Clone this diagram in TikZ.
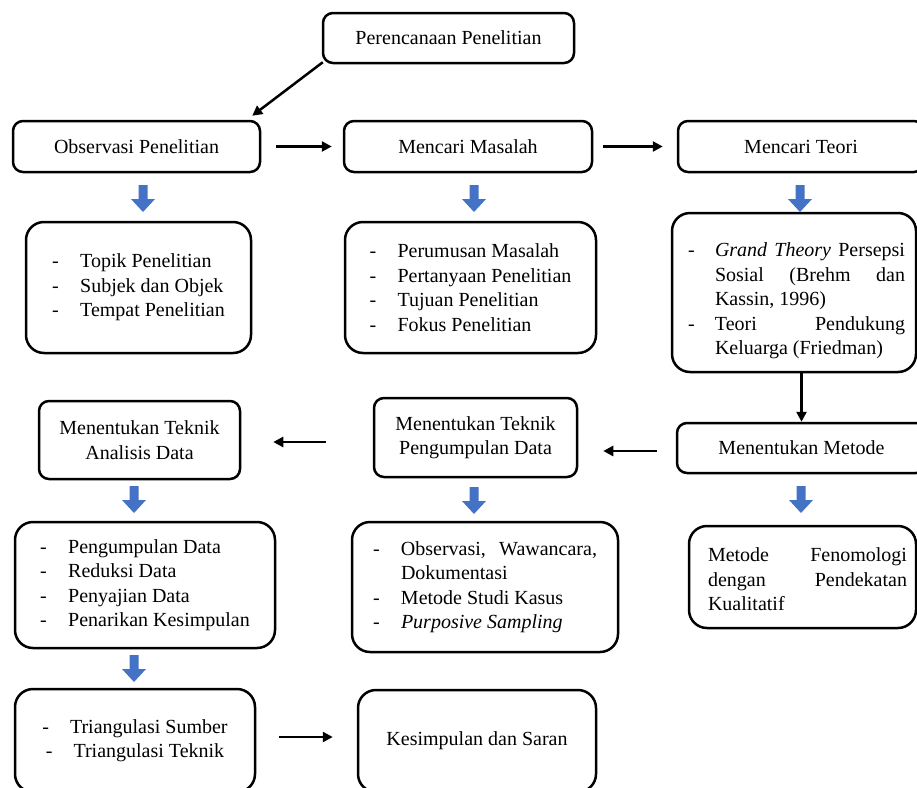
\documentclass[tikz,border=0pt]{standalone}
\usepackage{fontspec}
\setmainfont{Liberation Serif}
\usetikzlibrary{arrows.meta,calc}
\definecolor{arrowblue}{HTML}{4472C4}
\newcommand{\itm}[1]{\makebox[28pt][l]{-}#1}
\newcommand{\ind}{\hspace*{28pt}}
\begin{document}
\begin{tikzpicture}[x=1pt,y=-1pt,
  txt/.style={font=\fontsize{20}{24.5}\selectfont},
  box/.style={txt, draw, line width=2.5pt, rounded corners=10pt, inner sep=0pt, align=center},
  bigbox/.style={box, rounded corners=18pt},
  listbox/.style={bigbox, align=left},
  arr/.style={line width=2.5pt, -{Triangle[length=10pt,width=10pt]}},
  bluearrow/.pic={\fill[arrowblue] (-4.5,0) -- (4.5,0) -- (4.5,14) -- (12,14) -- (0,27) -- (-12,14) -- (-4.5,14) -- cycle;}
]
\useasboundingbox (0,0) rectangle (917,787);
\clip (0,0) rectangle (917,787);

% row 1
\node[box, minimum width=251pt, minimum height=50pt] (plan) at (448.5,38) {Perencanaan Penelitian};
\node[box, minimum width=247pt, minimum height=51pt] (obs) at (136.5,146.5) {Observasi Penelitian};
\node[box, minimum width=248pt, minimum height=51pt] (mas) at (468,146.5) {Mencari Masalah};
\node[box, minimum width=246pt, minimum height=51pt] (teori) at (801,146.5) {Mencari Teori};

\draw[arr] ([xshift=1pt,yshift=2pt]plan.south west) -- ([xshift=-9pt,yshift=4pt]obs.north east);
\draw[arr, shorten <=15pt, shorten >=11pt] (obs.east) -- (mas.west);
\draw[arr, shorten <=10pt, shorten >=14pt] (mas.east) -- (teori.west);

\pic at (143,185) {bluearrow};
\pic at (474,185) {bluearrow};
\pic at (800,185) {bluearrow};

% row 2
\node[listbox, minimum width=225pt, minimum height=131pt] (topik) at (138.5,287.5)
  {\itm{Topik Penelitian}\\ \itm{Subjek dan Objek}\\ \itm{Tempat Penelitian}};
\node[listbox, minimum width=251pt, minimum height=131pt] (rumus) at (470.5,287.5)
  {\itm{Perumusan Masalah}\\ \itm{Pertanyaan Penelitian}\\ \itm{Tujuan Penelitian}\\ \itm{Fokus Penelitian}};
\node[bigbox, minimum width=244pt, minimum height=159pt] (grand) at (794,292.5) {};
\node[txt, align=left, inner sep=0pt] (grandtxt) at (796.5,301)
  {\makebox[27pt][l]{-}\makebox[190pt][s]{\textit{Grand Theory} Persepsi}\\
   \hspace*{27pt}\makebox[190pt][s]{Sosial (Brehm dan}\\
   \hspace*{27pt}Kassin, 1996)\\
   \makebox[27pt][l]{-}\makebox[190pt][s]{Teori Pendukung}\\
   \hspace*{27pt}Keluarga (Friedman)};

% row 3
\node[box, minimum width=201pt, minimum height=78pt] (anal) at (139.5,440) {Menentukan Teknik\\ Analisis Data};
\node[box, minimum width=203pt, minimum height=79pt] (kumpul) at (475.5,437.5) {Menentukan Teknik\\ Pengumpulan Data};
\node[box, minimum width=249pt, minimum height=50pt] (metode) at (801.5,448) {Menentukan Metode};

\draw[arr] (grand.south -| metode.north) -- (metode.north);
\draw[arr, shorten <=19pt, shorten >=25pt] ([yshift=-3pt]metode.west) -- ([yshift=-3pt]metode.west -| kumpul.east);
\draw[arr, shorten <=47pt, shorten >=32pt] ([yshift=-4.5pt]kumpul.west) -- ([yshift=-4.5pt]kumpul.west -| anal.east);

\pic at (134,486) {bluearrow};
\pic at (474,487) {bluearrow};
\pic at (801,486) {bluearrow};

% row 4
\node[listbox, minimum width=260pt, minimum height=126pt] (dlist) at (145,585)
  {\itm{Pengumpulan Data}\\ \itm{Reduksi Data}\\ \itm{Penyajian Data}\\ \itm{Penarikan Kesimpulan}};
\node[listbox, minimum width=266pt, minimum height=130pt] (olist) at (485,587)
  {\makebox[28pt][l]{-}\makebox[196pt][s]{Observasi, Wawancara,}\\ \ind Dokumentasi\\ \itm{Metode Studi Kasus}\\ \itm{\textit{Purposive Sampling}}};
\node[bigbox, minimum width=227pt, minimum height=102pt] (feno) at (802.5,577) {};
\node[txt, align=left, inner sep=0pt] (fenotxt) at (807.5,579.5)
  {\makebox[199pt][s]{Metode Fenomologi}\\ \makebox[199pt][s]{dengan Pendekatan}\\ Kualitatif};

\pic at (134,655) {bluearrow};

% row 5
\node[bigbox, minimum width=240pt, minimum height=103pt] (tri) at (135,740.5)
  {-\hspace{21pt}Triangulasi Sumber\\ -\hspace{21pt}Triangulasi Teknik};
\node[bigbox, minimum width=238pt, minimum height=102pt] (kes) at (477,741) {Kesimpulan dan Saran};

\draw[arr, shorten <=23pt, shorten >=24pt] ([yshift=3.5pt]tri.east) -- ([yshift=3.5pt]tri.east -| kes.west);
\end{tikzpicture}
\end{document}
